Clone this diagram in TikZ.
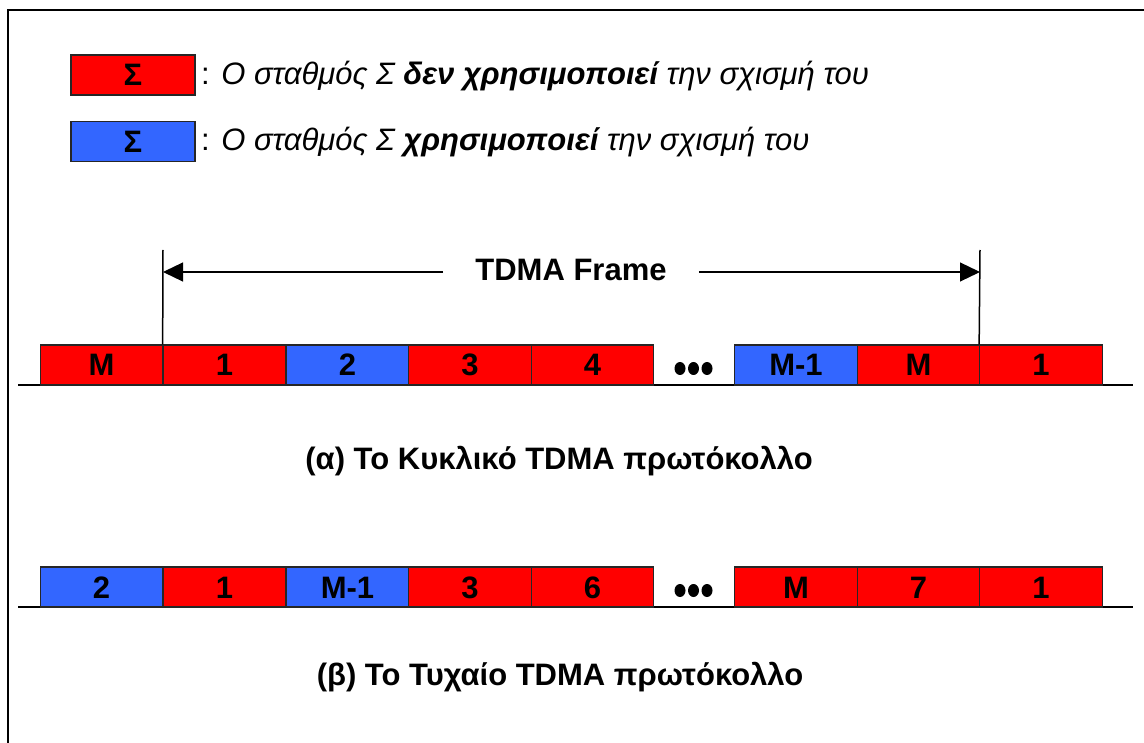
\documentclass[tikz,border=0pt]{standalone}
\usepackage{fontspec}
\setmainfont{Liberation Sans}
\usetikzlibrary{arrows.meta}
\definecolor{slotred}{RGB}{255,0,0}
\definecolor{slotblue}{RGB}{51,102,255}
\begin{document}
\begin{tikzpicture}[x=1pt,y=-1pt,
  slot/.style={draw=black!85, line width=1.2pt, minimum width=122.5pt,
    minimum height=40pt, inner sep=0pt, text height=22pt, text depth=0pt,
    font=\fontsize{31}{34}\selectfont\bfseries},
  idle/.style={slot, fill=slotred},
  busy/.style={slot, fill=slotblue},
  legendtext/.style={anchor=base west, inner sep=0pt,
    font=\fontsize{31}{34}\selectfont},
  caption/.style={anchor=base, inner sep=0pt,
    font=\fontsize{31}{34}\selectfont\bfseries},
  axis/.style={line width=1.2pt},
  marker/.style={line width=1.5pt},
  span/.style={line width=1.2pt, -{Triangle[length=20pt,width=19pt]}}
]
\useasboundingbox (0,0) rectangle (1144,743);

% outer frame (left and top edges)
\draw[line width=2.5pt] (8,743) -- (8,10) -- (1144,10);

% legend
\node[idle, minimum width=124pt] (lg1) at (133,75) {Σ};
\node[busy, minimum width=124pt] (lg2) at (133,141.5) {Σ};
\node[legendtext] (lt1) at (201,85) {: \textit{Ο σταθμός Σ \textbf{δεν χρησιμοποιεί} την σχισμή του}};
\node[legendtext] (lt2) at (201,151) {: \textit{Ο σταθμός Σ \textbf{χρησιμοποιεί} την σχισμή του}};

% (a) cyclic TDMA
\coordinate (ax1s) at (18,385);
\coordinate (ax1e) at (1133,385);
\draw[axis] (ax1s) -- (ax1e);
\node[idle] (a1) at (101.5,365) {M};
\node[idle] (a2) at (224.5,365) {1};
\node[busy] (a3) at (347.5,365) {2};
\node[idle] (a4) at (470,365) {3};
\node[idle] (a5) at (592.5,365) {4};
\node[busy] (a6) at (796,365) {M-1};
\node[idle] (a7) at (918.5,365) {M};
\node[idle] (a8) at (1041,365) {1};
\fill (680,368.5) ellipse (5.5 and 6.5);
\fill (693.5,368.5) ellipse (5.5 and 6.5);
\fill (707,368.5) ellipse (5.5 and 6.5);

% frame span
\coordinate (fl) at (163,250);
\coordinate (fr) at (980,250);
\coordinate (al) at (163,272);
\coordinate (ar) at (980,272);
\draw[marker] (a2.north west) -- (fl);
\draw[marker] (a8.north west) -- (fr);
\node[inner xsep=32pt, inner ysep=0pt, text height=22pt, text depth=0pt,
  font=\fontsize{31}{34}\selectfont\bfseries] (frame) at (571,270) {TDMA Frame};
\draw[span] (frame.west |- al) -- (al);
\draw[span] (frame.east |- ar) -- (ar);

\node[caption] (capa) at (559,469) {(α) Το Κυκλικό TDMA πρωτόκολλο};

% (b) random TDMA
\coordinate (ax2s) at (18,607);
\coordinate (ax2e) at (1133,607);
\draw[axis] (ax2s) -- (ax2e);
\node[busy] (b1) at (101.5,587) {2};
\node[idle] (b2) at (224.5,587) {1};
\node[busy] (b3) at (347.5,587) {M-1};
\node[idle] (b4) at (470,587) {3};
\node[idle] (b5) at (592.5,587) {6};
\node[idle] (b6) at (796,587) {M};
\node[idle] (b7) at (918.5,587) {7};
\node[idle] (b8) at (1041,587) {1};
\fill (680,590.5) ellipse (5.5 and 6.5);
\fill (693.5,590.5) ellipse (5.5 and 6.5);
\fill (707,590.5) ellipse (5.5 and 6.5);

\node[caption] (capb) at (560,685) {(β) Το Τυχαίο TDMA πρωτόκολλο};
\end{tikzpicture}
\end{document}
